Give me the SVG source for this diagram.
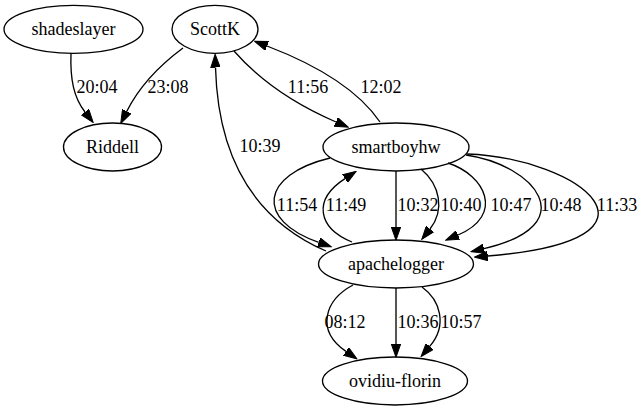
<svg xmlns="http://www.w3.org/2000/svg" width="643" height="411" viewBox="0 0 643 411">
<defs>
<style>
.node ellipse{fill:none;stroke:#000;stroke-width:1.33}
.edges path{fill:none;stroke:#000;stroke-width:1.33;marker-end:url(#arr)}
</style>
<marker id="arr" markerUnits="userSpaceOnUse" markerWidth="14" markerHeight="10" viewBox="0 0 14 10" refX="0" refY="5" orient="auto">
<path d="M0,0.3 L13.3,5 L0,9.7 z" fill="#000" stroke="#000" stroke-width="1"/>
</marker>
</defs>
<rect width="643" height="411" fill="#fff"/>
<g font-family="Liberation Serif, Times New Roman, DejaVu Serif, serif" font-size="18" text-anchor="middle" fill="#000">
<g id="shadeslayer" class="node"><ellipse cx="73.5" cy="29.3" rx="69.5" ry="24"/><text x="73.5" y="35">shadeslayer</text></g>
<g id="ScottK" class="node"><ellipse cx="215" cy="29.3" rx="43" ry="24"/><text x="215" y="35">ScottK</text></g>
<g id="Riddell" class="node"><ellipse cx="112.5" cy="147" rx="49" ry="24"/><text x="112.5" y="152.5">Riddell</text></g>
<g id="smartboyhw" class="node"><ellipse cx="396" cy="147" rx="73" ry="24"/><text x="396" y="152.5">smartboyhw</text></g>
<g id="apachelogger" class="node"><ellipse cx="396" cy="264" rx="77.5" ry="24"/><text x="396" y="269.5">apachelogger</text></g>
<g id="ovidiu-florin" class="node"><ellipse cx="395" cy="381" rx="72.5" ry="24"/><text x="395" y="386.5">ovidiu-florin</text></g>
<g id="edges" class="edges">
<path d="M71,53 C70,80 74,98 85,112"/>
<path d="M183,48 C160,65 140,85 126.7,111.5"/>
<path d="M234,51 C255,75 285,100 336,122"/>
<path d="M380,122 C365,100 335,72 267,46"/>
<path d="M326,251 C255,220 218,160 215.5,67.5"/>
<path d="M330,158 C260,175 255,220 318.7,242.4"/>
<path d="M352,242 C318,228 312,200 345,178.6"/>
<path d="M396,171 L396,227"/>
<path d="M421,169 C440,185 445,210 430,229"/>
<path d="M448,163 C485,175 505,215 458,235"/>
<path d="M466,155 C535,165 585,225 484,248.7"/>
<path d="M467,154 C580,158 685,240 487.7,256"/>
<path d="M353,285 C325,300 315,330 346,351.4"/>
<path d="M396,288 L396,344"/>
<path d="M422,287 C440,300 448,325 429.7,346.4"/>
<text x="97" y="93">20:04</text>
<text x="168" y="93">23:08</text>
<text x="308" y="93">11:56</text>
<text x="381" y="93">12:02</text>
<text x="260" y="152">10:39</text>
<text x="297" y="211">11:54</text>
<text x="346" y="211">11:49</text>
<text x="418" y="211">10:32</text>
<text x="461" y="211">10:40</text>
<text x="511" y="211">10:47</text>
<text x="561" y="211">10:48</text>
<text x="617" y="211">11:33</text>
<text x="345" y="328">08:12</text>
<text x="418" y="328">10:36</text>
<text x="461" y="328">10:57</text>
</g>
</g>
</svg>
